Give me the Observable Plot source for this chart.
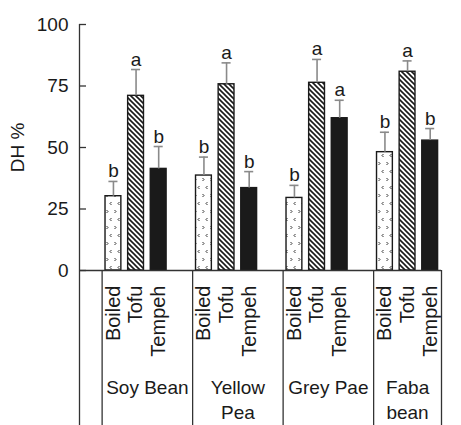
<!DOCTYPE html>
<html>
<head>
<meta charset="utf-8">
<script src="https://cdn.jsdelivr.net/npm/d3@7"></script>
<script src="https://cdn.jsdelivr.net/npm/@observablehq/plot@0.6"></script>
<style>
  html, body { margin: 0; padding: 0; background: #fff; }
  #chart svg { display: block; }
</style>
</head>
<body>
<div id="chart"></div>
<script>
// ---- data ----
const groups = ["Soy Bean", "Yellow\nPea", "Grey Pae", "Faba\nbean"];
const methods = ["Boiled", "Tofu", "Tempeh"];
const dhSoy    = [30.2, 71.0, 41.3];
const dhYellow = [38.6, 75.7, 33.5];
const dhGrey   = [29.5, 76.3, 61.9];
const dhFaba   = [48.1, 80.8, 52.8];
const sdSoy    = [6.0, 10.7, 9.1];
const sdYellow = [7.5, 8.7, 6.7];
const sdGrey   = [5.1, 9.5, 7.3];
const sdFaba   = [8.1, 4.4, 4.9];
const letSoy    = ["b", "a", "b"];
const letYellow = ["b", "a", "b"];
const letGrey   = ["b", "a", "a"];
const letFaba   = ["b", "a", "b"];
const yTicks = [0, 25, 50, 75, 100];
const yLabel = "DH %";

const dhAll = [dhSoy, dhYellow, dhGrey, dhFaba];
const sdAll = [sdSoy, sdYellow, sdGrey, sdFaba];
const letAll = [letSoy, letYellow, letGrey, letFaba];

const rows = [];
groups.forEach((g, gi) => methods.forEach((m, mi) => {
  rows.push({group: g, method: m, idx: gi * 4 + mi, value: dhAll[gi][mi], sd: sdAll[gi][mi], letter: letAll[gi][mi]});
}));
const separators = [-0.5, 3.5, 7.5, 11.5, 14.5];
const groupLabels = groups.map((g, gi) => ({
  text: g,
  x: (separators[gi] + separators[gi + 1]) / 2
}));

const fillFor = {Boiled: "url(#pat-boiled)", Tofu: "url(#pat-tofu)", Tempeh: "#1a1a1a"};
const font = "'Liberation Sans', Arial, sans-serif";
const ink = "#1a1a1a";
const bottom = -63;

const chart = Plot.plot({
  width: 461,
  height: 425,
  marginLeft: 79,
  marginRight: 20,
  marginTop: 24,
  marginBottom: 0,
  style: {fontFamily: font, background: "#fff"},
  x: {domain: [-1.5, 14.5], axis: null},
  y: {domain: [0, 100], range: [270, 24], axis: null},
  marks: [
    Plot.rectY(rows, {
      x1: d => d.idx - 0.35, x2: d => d.idx + 0.35, y1: 0, y2: "value",
      fill: d => fillFor[d.method], stroke: ink, strokeWidth: 1.4
    }),
    Plot.ruleX(rows, {x: "idx", y1: "value", y2: d => d.value + d.sd, stroke: "#8a8a8a", strokeWidth: 1.6}),
    Plot.ruleY(rows, {y: d => d.value + d.sd, x1: d => d.idx - 0.2, x2: d => d.idx + 0.2, stroke: "#8a8a8a", strokeWidth: 1.6}),
    Plot.text(rows, {x: "idx", y: d => d.value + d.sd, text: "letter", lineAnchor: "bottom", dy: -4, fontSize: 19, fill: ink}),
    // axes
    Plot.ruleX([-1.5], {y1: bottom, y2: 100, stroke: "#333", strokeWidth: 1.3}),
    Plot.ruleX(separators, {y1: 0, y2: bottom, stroke: "#333", strokeWidth: 1.3}),
    Plot.ruleY([0], {x1: -1.5, x2: 14.5, stroke: "#333", strokeWidth: 1.3}),
    Plot.ruleY(yTicks, {x1: -1.5, x2: -1.19, stroke: "#333", strokeWidth: 1.3}),
    Plot.text(yTicks, {x: -1.5, y: d => d, text: d => String(d), textAnchor: "end", dx: -11, fontSize: 19, fill: ink}),
    Plot.text([yLabel], {x: -1.5, y: 50, text: d => d, rotate: -90, dx: -62, fontSize: 19, fill: ink}),
    Plot.text(rows, {x: "idx", y: 0, text: "method", rotate: -90, textAnchor: "end", dy: 15, fontSize: 20, fill: ink}),
    Plot.text(groupLabels, {x: "x", y: 0, text: "text", lineAnchor: "top", dy: 105, lineHeight: 1.34, fontSize: 19, fill: ink})
  ]
});

const defs = d3.select(chart).insert("defs", ":first-child");
const pt = defs.append("pattern").attr("id", "pat-tofu").attr("patternUnits", "userSpaceOnUse")
  .attr("width", 5).attr("height", 5);
pt.append("rect").attr("width", 5).attr("height", 5).attr("fill", "#fff");
pt.append("path").attr("d", "M-1,-1 L6,6 M-1,4 L1,6 M4,-1 L6,1").attr("stroke", ink).attr("stroke-width", 1.6);
const pb = defs.append("pattern").attr("id", "pat-boiled").attr("patternUnits", "userSpaceOnUse")
  .attr("width", 8).attr("height", 16).attr("x", 1);
pb.append("rect").attr("width", 8).attr("height", 16).attr("fill", "#fff");
pb.append("path").attr("d", "M1.5,2 L3,3.5 L1.5,5 M6.5,10 L5,11.5 L6.5,13").attr("stroke", "#333").attr("stroke-width", 1).attr("fill", "none");

document.getElementById("chart").append(chart);
</script>
</body>
</html>
